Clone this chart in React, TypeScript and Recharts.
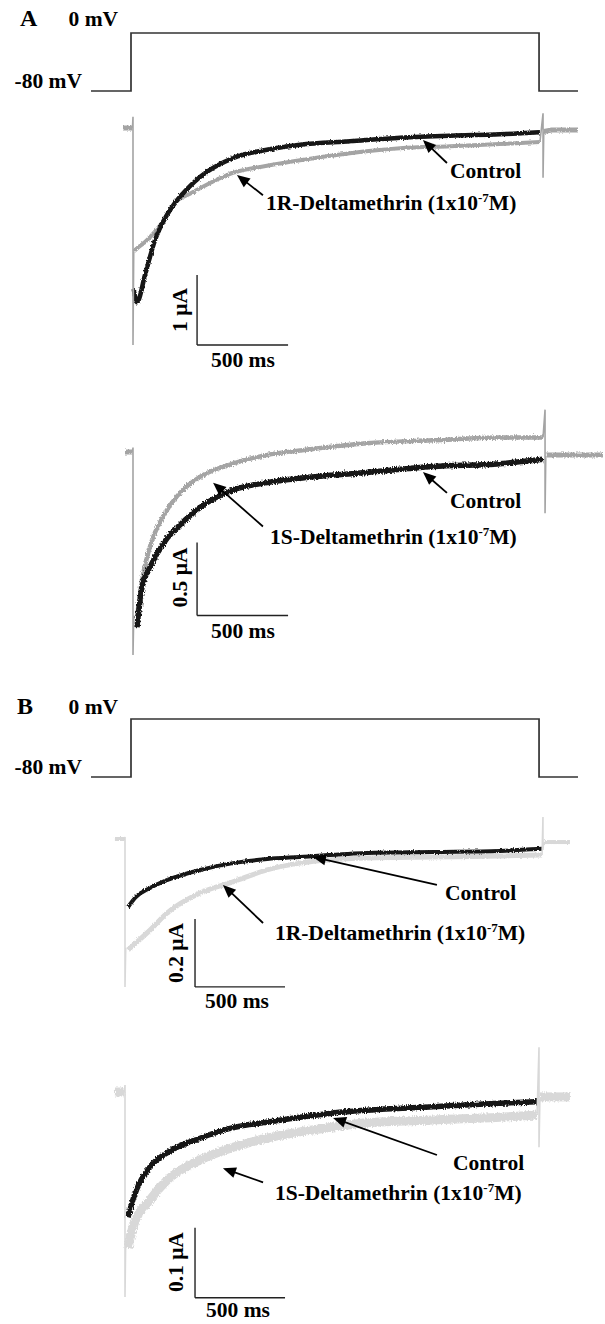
import React from "react";
import { Line, LineChart, ReferenceDot, ReferenceLine, XAxis, YAxis } from "recharts";

// ---- voltage protocol (mV vs ms) ----
const PROTOCOL_T = [-220, 0, 0, 2242, 2242, 2456];
const PROTOCOL_V = [-80, -80, 0, 0, -80, -80];

// ---- A, top: 1R-Deltamethrin (µA vs ms) ----
const A1_T = [4, 22, 66, 121, 176, 231, 313, 368, 549, 736, 918, 1192, 1467, 1742, 2016, 2236];
const A1_CONTROL = [-2.3, -2.49, -2.1, -1.6, -1.29, -1.07, -0.83, -0.7, -0.43, -0.31, -0.24, -0.19, -0.14, -0.11, -0.09, -0.06];
const A1_DRUG = [-1.76, -1.72, -1.63, -1.48, -1.29, -1.07, -0.94, -0.86, -0.64, -0.54, -0.46, -0.36, -0.29, -0.26, -0.23, -0.2];
const A1_PRE_T = [-55, -3];
const A1_PRE_V = [0, 0];
const A1_ON_T = [-3, 0, 0, 4];
const A1_ON_V = [0, 0.16, -3.1, -1.76];
const A1_OFF_T = [2236, 2253, 2253, 2257];
const A1_OFF_V = [-0.2, 0.21, -0.71, -0.05];
const A1_POST_T = [2257, 2300, 2445];
const A1_POST_V = [-0.05, -0.03, -0.03];

// ---- A, bottom: 1S-Deltamethrin ----
const A2_T = [22, 49, 93, 176, 258, 368, 549, 736, 918, 1286, 1648, 2016, 2253];
const A2_CONTROL = [-1.2, -0.93, -0.79, -0.61, -0.5, -0.38, -0.26, -0.21, -0.18, -0.14, -0.1, -0.08, -0.05];
const A2_DRUG = [-1.14, -0.88, -0.65, -0.42, -0.28, -0.17, -0.08, -0.02, 0.01, 0.06, 0.08, 0.1, 0.1];
const A2_PRE_T = [-44, -3];
const A2_PRE_V = [0, 0];
const A2_ON_T = [-3, 0, 0, 4];
const A2_ON_V = [0, 0.03, -1.39, -1.12];
const A2_OFF_T = [2253, 2264, 2264, 2268];
const A2_OFF_V = [0.1, 0.29, -0.42, -0.03];
const A2_POST_T = [2268, 2582];
const A2_POST_V = [-0.02, -0.02];

// ---- B, top: 1R-Deltamethrin ----
const B1_T = [17, 60, 139, 233, 417, 600, 789, 972, 1344, 1711, 2083, 2317];
const B1_CONTROL = [-0.2, -0.171, -0.144, -0.121, -0.091, -0.071, -0.059, -0.053, -0.041, -0.038, -0.035, -0.029];
const B1_DRUG = [-0.326, -0.306, -0.268, -0.218, -0.159, -0.126, -0.091, -0.071, -0.056, -0.053, -0.05, -0.047];
const B1_PRE_T = [-56, -3];
const B1_PRE_V = [0, 0];
const B1_ON_T = [-3, 0, 0, 4];
const B1_ON_V = [0, 0.006, -0.435, -0.32];
const B1_OFF_T = [2317, 2322, 2322, 2326];
const B1_OFF_V = [-0.047, 0.065, -0.032, -0.01];
const B1_POST_T = [2326, 2472];
const B1_POST_V = [-0.009, -0.009];

// ---- B, bottom: 1S-Deltamethrin ----
const B2_T = [17, 44, 139, 233, 417, 600, 789, 972, 1156, 1344, 1711, 2083, 2289];
const B2_CONTROL = [-0.179, -0.154, -0.107, -0.087, -0.066, -0.051, -0.043, -0.036, -0.03, -0.026, -0.021, -0.016, -0.014];
const B2_DRUG = [-0.223, -0.193, -0.154, -0.126, -0.097, -0.079, -0.066, -0.057, -0.05, -0.044, -0.04, -0.036, -0.033];
const B2_PRE_T = [-56, -3];
const B2_PRE_V = [0, 0];
const B2_ON_T = [-3, 0, 0, 4];
const B2_ON_V = [0, 0.01, -0.293, -0.21];
const B2_OFF_T = [2289, 2300, 2300, 2305];
const B2_OFF_V = [-0.033, 0.064, -0.079, -0.01];
const B2_POST_T = [2305, 2472];
const B2_POST_V = [-0.007, -0.007];

const W = 605;
const FONT = "'Liberation Serif', 'Times New Roman', Times, serif";
const BLACK = "#141414";

type Pt = { t: number; v: number };
const zip = (t: number[], v: number[]): Pt[] => t.map((x, i) => ({ t: x, v: v[i] }));

interface Geo {
  top: number;
  height: number;
  x0: number; // px where t = 0
  pxPerMs: number;
  y0: number; // px where v = 0
  pxPerUnit: number;
}

const xDomain = (g: Geo): [number, number] => [-g.x0 / g.pxPerMs, (W - g.x0) / g.pxPerMs];
const yDomain = (g: Geo): [number, number] => [
  -(g.top + g.height - g.y0) / g.pxPerUnit,
  (g.y0 - g.top) / g.pxPerUnit,
];

const Arrow = (p: any) => {
  const { x1, y1, x2, y2 } = p;
  const dx = x2 - x1;
  const dy = y2 - y1;
  const len = Math.hypot(dx, dy) || 1;
  const ux = dx / len;
  const uy = dy / len;
  const hl = 13;
  const hw = 5.5;
  const bx = x2 - ux * hl;
  const by = y2 - uy * hl;
  return (
    <g>
      <line x1={x1} y1={y1} x2={bx + ux * 2} y2={by + uy * 2} stroke="#000" strokeWidth={1.8} />
      <polygon
        points={`${x2},${y2} ${bx - uy * hw},${by + ux * hw} ${bx + uy * hw},${by - ux * hw}`}
        fill="#000"
      />
    </g>
  );
};

const textAt =
  (content: React.ReactNode, anchor: "start" | "middle" | "end", size = 21.5, rotate = false) =>
  (p: any) =>
    (
      <text
        x={p.cx}
        y={p.cy}
        dy="0.35em"
        textAnchor={anchor}
        fontFamily={FONT}
        fontWeight="bold"
        fontSize={size}
        fill="#000"
        transform={rotate ? `rotate(-90 ${p.cx} ${p.cy})` : undefined}
      >
        {content}
      </text>
    );

const drugName = (name: string) => (
  <>
    {`${name}-Deltamethrin (1x10`}
    <tspan dy={-8} fontSize={13}>
      -7
    </tspan>
    <tspan dy={8}>M)</tspan>
  </>
);

interface Notes {
  ctrlText: [number, number];
  ctrlArrow: [[number, number], [number, number]];
  drugText: [number, number];
  drugArrow: [[number, number], [number, number]];
  bar: { t: number; v: number; dv: number; label: string; labelAt: [number, number]; msAt: [number, number] };
}

interface TraceProps {
  geo: Geo;
  t: number[];
  control: number[];
  drug: number[];
  pre: Pt[];
  on: Pt[];
  off: Pt[];
  post: Pt[];
  drugName: string;
  gray: string;
  ctrlWidth: number;
  drugWidth: number;
  baseWidth: number;
  noise: string;
  notes: Notes;
}

const TracePanel = ({ geo, t, control, drug, pre, on, off, post, drugName: dn, gray, ctrlWidth, drugWidth, baseWidth, noise, notes }: TraceProps) => {
  const { bar } = notes;
  const f = `url(#${noise})`;
  return (
    <div style={{ position: "absolute", left: 0, top: geo.top }}>
      <LineChart width={W} height={geo.height} margin={{ top: 0, right: 0, bottom: 0, left: 0 }}>
        <XAxis type="number" dataKey="t" domain={xDomain(geo)} allowDataOverflow hide />
        <YAxis type="number" dataKey="v" domain={yDomain(geo)} allowDataOverflow hide />
        <Line data={pre} dataKey="v" type="linear" stroke={gray} strokeWidth={baseWidth} dot={false} activeDot={false} isAnimationActive={false} filter={f} />
        <Line data={post} dataKey="v" type="linear" stroke={gray} strokeWidth={baseWidth} dot={false} activeDot={false} isAnimationActive={false} filter={f} />
        <Line data={zip(t, drug)} dataKey="v" type="monotone" stroke={gray} strokeWidth={drugWidth} strokeLinejoin="round" dot={false} activeDot={false} isAnimationActive={false} filter={f} />
        <Line data={zip(t, control)} dataKey="v" type="monotone" stroke={BLACK} strokeWidth={ctrlWidth} strokeLinejoin="round" dot={false} activeDot={false} isAnimationActive={false} filter={f} />
        <Line data={on} dataKey="v" type="linear" stroke={gray} strokeWidth={1.6} dot={false} activeDot={false} isAnimationActive={false} />
        <Line data={off} dataKey="v" type="linear" stroke={gray} strokeWidth={1.6} dot={false} activeDot={false} isAnimationActive={false} />

        <ReferenceLine
          segment={[
            { x: notes.ctrlArrow[0][0], y: notes.ctrlArrow[0][1] },
            { x: notes.ctrlArrow[1][0], y: notes.ctrlArrow[1][1] },
          ]}
          shape={Arrow}
        />
        <ReferenceLine
          segment={[
            { x: notes.drugArrow[0][0], y: notes.drugArrow[0][1] },
            { x: notes.drugArrow[1][0], y: notes.drugArrow[1][1] },
          ]}
          shape={Arrow}
        />
        <ReferenceDot x={notes.ctrlText[0]} y={notes.ctrlText[1]} r={0} shape={textAt("Control", "start")} />
        <ReferenceDot x={notes.drugText[0]} y={notes.drugText[1]} r={0} shape={textAt(drugName(dn), "start")} />

        {/* scale bars */}
        <ReferenceLine
          segment={[
            { x: bar.t, y: bar.v },
            { x: bar.t, y: bar.v - bar.dv },
          ]}
          stroke="#222"
          strokeWidth={1.4}
        />
        <ReferenceLine
          segment={[
            { x: bar.t, y: bar.v - bar.dv },
            { x: bar.t + 500, y: bar.v - bar.dv },
          ]}
          stroke="#222"
          strokeWidth={1.4}
        />
        <ReferenceDot x={bar.labelAt[0]} y={bar.labelAt[1]} r={0} shape={textAt(bar.label, "middle", 21.5, true)} />
        <ReferenceDot x={bar.msAt[0]} y={bar.msAt[1]} r={0} shape={textAt("500 ms", "middle")} />
      </LineChart>
    </div>
  );
};

const ProtocolPanel = ({ geo, letter, letterAt }: { geo: Geo; letter: string; letterAt: [number, number] }) => (
  <div style={{ position: "absolute", left: 0, top: geo.top }}>
    <LineChart width={W} height={geo.height} margin={{ top: 0, right: 0, bottom: 0, left: 0 }}>
      <XAxis type="number" dataKey="t" domain={xDomain(geo)} allowDataOverflow hide />
      <YAxis type="number" dataKey="v" domain={yDomain(geo)} allowDataOverflow hide />
      <Line
        data={zip(PROTOCOL_T, PROTOCOL_V)}
        dataKey="v"
        type="linear"
        stroke="#333"
        strokeWidth={1.7}
        dot={false}
        activeDot={false}
        isAnimationActive={false}
      />
      <ReferenceDot x={letterAt[0]} y={letterAt[1]} r={0} shape={textAt(letter, "start", 24)} />
      <ReferenceDot x={-71} y={letterAt[1]} r={0} shape={textAt("0 mV", "end")} />
      <ReferenceDot x={-269} y={-64.8} r={0} shape={textAt("-80 mV", "end")} />
    </LineChart>
  </div>
);

const GEO_PA: Geo = { top: 0, height: 110, x0: 131, pxPerMs: 0.182, y0: 33, pxPerUnit: 0.725 };
const GEO_A1: Geo = { top: 95, height: 280, x0: 133, pxPerMs: 0.182, y0: 128, pxPerUnit: 70 };
const GEO_A2: Geo = { top: 395, height: 280, x0: 133, pxPerMs: 0.182, y0: 452, pxPerUnit: 146 };
const GEO_PB: Geo = { top: 680, height: 110, x0: 131, pxPerMs: 0.182, y0: 719, pxPerUnit: 0.725 };
const GEO_B1: Geo = { top: 790, height: 230, x0: 125, pxPerMs: 0.18, y0: 839, pxPerUnit: 340 };
const GEO_B2: Geo = { top: 1030, height: 294, x0: 125, pxPerMs: 0.18, y0: 1092, pxPerUnit: 700 };

const NOTES_A1: Notes = {
  ctrlText: [1742, -0.6],
  ctrlArrow: [[1725, -0.5], [1593, -0.17]],
  drugText: [731, -1.07],
  drugArrow: [[714, -0.96], [571, -0.67]],
  bar: { t: 352, v: -2.1, dv: 1, label: "1 μA", labelAt: [258, -2.6], msAt: [604, -3.31] },
};
const NOTES_A2: Notes = {
  ctrlText: [1742, -0.33],
  ctrlArrow: [[1725, -0.28], [1593, -0.137]],
  drugText: [753, -0.58],
  drugArrow: [[714, -0.51], [440, -0.21]],
  bar: { t: 352, v: -0.62, dv: 0.5, label: "0.5 μA", labelAt: [258, -0.86], msAt: [604, -1.22] },
};
const NOTES_B1: Notes = {
  ctrlText: [1778, -0.156],
  ctrlArrow: [[1733, -0.135], [1044, -0.053]],
  drugText: [833, -0.276],
  drugArrow: [[767, -0.247], [544, -0.135]],
  bar: { t: 389, v: -0.235, dv: 0.2, label: "0.2 μA", labelAt: [283, -0.335], msAt: [622, -0.476] },
};
const NOTES_B2: Notes = {
  ctrlText: [1822, -0.1],
  ctrlArrow: [[1733, -0.09], [1156, -0.037]],
  drugText: [833, -0.144],
  drugArrow: [[767, -0.129], [544, -0.109]],
  bar: { t: 389, v: -0.194, dv: 0.1, label: "0.1 μA", labelAt: [283, -0.243], msAt: [628, -0.311] },
};

const GRAY_A = "#a4a4a4";
const GRAY_B = "#d8d8d8";

// recording-noise look for the traces; region in user space so flat segments are not clipped
const NoiseDefs = () => (
  <svg width={0} height={0} style={{ position: "absolute" }}>
    <defs>
      <filter id="noiseLow" filterUnits="userSpaceOnUse" x={-20} y={-20} width={660} height={360}>
        <feTurbulence type="fractalNoise" baseFrequency="0.9 0.5" numOctaves={1} seed={3} />
        <feDisplacementMap in="SourceGraphic" scale={3} xChannelSelector="R" yChannelSelector="G" />
      </filter>
      <filter id="noiseHigh" filterUnits="userSpaceOnUse" x={-20} y={-20} width={660} height={360}>
        <feTurbulence type="fractalNoise" baseFrequency="0.9 0.5" numOctaves={1} seed={7} />
        <feDisplacementMap in="SourceGraphic" scale={5} xChannelSelector="R" yChannelSelector="G" />
      </filter>
    </defs>
  </svg>
);

export default function App() {
  return (
    <div style={{ position: "absolute", left: 0, top: 0, width: W, height: 1324, background: "#fff", overflow: "hidden" }}>
      <NoiseDefs />
      <ProtocolPanel geo={GEO_PA} letter="A" letterAt={[-610, 20.7]} />
      <TracePanel
        geo={GEO_A1}
        t={A1_T}
        control={A1_CONTROL}
        drug={A1_DRUG}
        pre={zip(A1_PRE_T, A1_PRE_V)}
        on={zip(A1_ON_T, A1_ON_V)}
        off={zip(A1_OFF_T, A1_OFF_V)}
        post={zip(A1_POST_T, A1_POST_V)}
        drugName="1R"
        gray={GRAY_A}
        ctrlWidth={4.5}
        drugWidth={4}
        baseWidth={5}
        noise="noiseLow"
        notes={NOTES_A1}
      />
      <TracePanel
        geo={GEO_A2}
        t={A2_T}
        control={A2_CONTROL}
        drug={A2_DRUG}
        pre={zip(A2_PRE_T, A2_PRE_V)}
        on={zip(A2_ON_T, A2_ON_V)}
        off={zip(A2_OFF_T, A2_OFF_V)}
        post={zip(A2_POST_T, A2_POST_V)}
        drugName="1S"
        gray={GRAY_A}
        ctrlWidth={5.5}
        drugWidth={4.5}
        baseWidth={5}
        noise="noiseHigh"
        notes={NOTES_A2}
      />
      <ProtocolPanel geo={GEO_PB} letter="B" letterAt={[-626, 17.9]} />
      <TracePanel
        geo={GEO_B1}
        t={B1_T}
        control={B1_CONTROL}
        drug={B1_DRUG}
        pre={zip(B1_PRE_T, B1_PRE_V)}
        on={zip(B1_ON_T, B1_ON_V)}
        off={zip(B1_OFF_T, B1_OFF_V)}
        post={zip(B1_POST_T, B1_POST_V)}
        drugName="1R"
        gray={GRAY_B}
        ctrlWidth={4}
        drugWidth={5}
        baseWidth={4}
        noise="noiseLow"
        notes={NOTES_B1}
      />
      <TracePanel
        geo={GEO_B2}
        t={B2_T}
        control={B2_CONTROL}
        drug={B2_DRUG}
        pre={zip(B2_PRE_T, B2_PRE_V)}
        on={zip(B2_ON_T, B2_ON_V)}
        off={zip(B2_OFF_T, B2_OFF_V)}
        post={zip(B2_POST_T, B2_POST_V)}
        drugName="1S"
        gray={GRAY_B}
        ctrlWidth={5.5}
        drugWidth={9}
        baseWidth={9}
        noise="noiseHigh"
        notes={NOTES_B2}
      />
    </div>
  );
}
